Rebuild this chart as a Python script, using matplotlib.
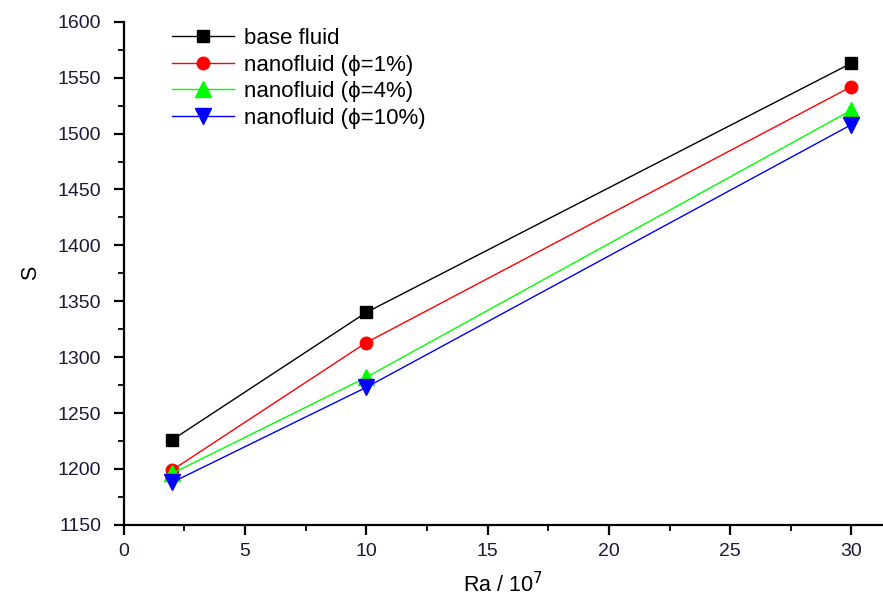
import matplotlib
matplotlib.use("Agg")
import matplotlib.pyplot as plt
from matplotlib.ticker import MultipleLocator

plt.rcParams['font.family'] = ['Liberation Sans', 'DejaVu Sans']

ra = [2, 10, 30]
base_fluid = [1226, 1340, 1563]
nano_1 = [1199, 1313, 1542]
nano_4 = [1196, 1282, 1521]
nano_10 = [1188, 1273, 1508]
labels = ['base fluid', 'nanofluid (\u03d5=1%)', 'nanofluid (\u03d5=4%)', 'nanofluid (\u03d5=10%)']

fig = plt.figure(figsize=(8.83, 6.04), dpi=100)
ax = fig.add_axes([0.140, 0.131, 0.860, 0.833])

series = [
    (base_fluid, '#000000', 's', 8),
    (nano_1, '#ff0000', 'o', 9),
    (nano_4, '#00ff00', '^', 11),
    (nano_10, '#0000ff', 'v', 11),
]
for (vals, c, m, ms), lab in zip(series, labels):
    ax.plot(ra, vals, color=c, marker=m, markersize=ms, lw=1.0, label=lab,
            markeredgecolor=c)

ax.set_xlim(0, 31.3)
ax.set_ylim(1150, 1600)
ax.xaxis.set_major_locator(MultipleLocator(5))
ax.xaxis.set_minor_locator(MultipleLocator(2.5))
ax.yaxis.set_major_locator(MultipleLocator(50))
ax.yaxis.set_minor_locator(MultipleLocator(25))
for s in ['top', 'right']:
    ax.spines[s].set_visible(False)
for s in ['left', 'bottom']:
    ax.spines[s].set_linewidth(1.6)
ax.tick_params(which='major', direction='out', length=7, width=1.6, labelsize=14, labelcolor='#1a1a33')
ax.tick_params(axis='y', which='major', pad=9)
ax.tick_params(axis='x', which='major', pad=6)
ax.tick_params(which='minor', direction='out', length=4, width=1.3)
ax.set_xlabel('Ra / 10$^{7}$', fontsize=15.5, labelpad=9)
ax.set_ylabel('S', fontsize=15.5, labelpad=12)

ax.legend(loc='upper left', bbox_to_anchor=(0.037, 1.027), frameon=False, fontsize=16,
          handlelength=2.8, labelspacing=0.25, handletextpad=0.45)

fig.savefig('out.png', dpi=100)
